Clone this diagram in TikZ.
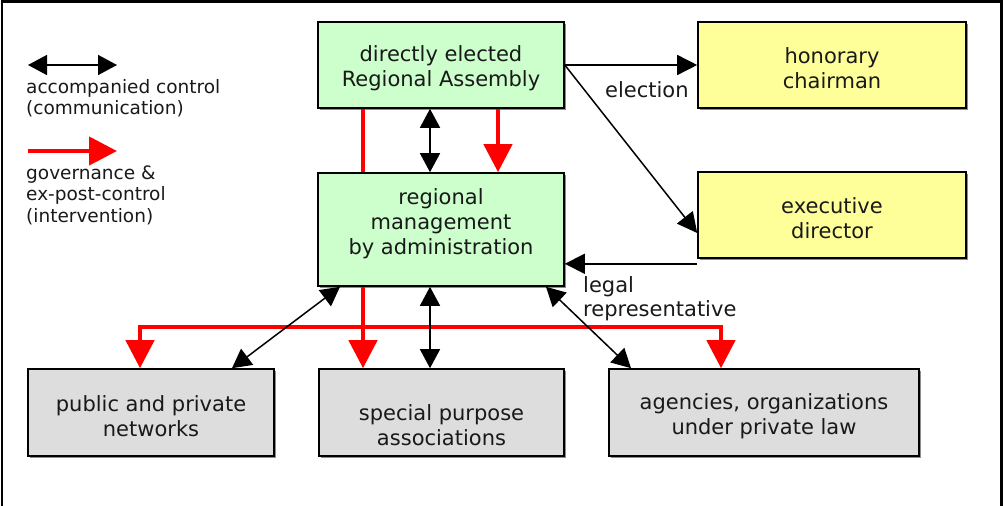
\documentclass[tikz,border=0pt]{standalone}
\usepackage{fontspec}
\setmainfont{DejaVu Sans}
\usetikzlibrary{arrows.meta,shadows}
\definecolor{boxgreen}{HTML}{CCFFCC}
\definecolor{boxyellow}{HTML}{FFFF99}
\definecolor{boxgray}{HTML}{DDDDDD}
\definecolor{myred}{HTML}{FF0000}
\begin{document}
\begin{tikzpicture}[x=1pt,y=-1pt,
  box/.style={draw=black, line width=1.6pt, minimum width=#1, inner sep=0pt,
    drop shadow={shadow xshift=1.5pt, shadow yshift=-1.5pt, fill=black!45, opacity=1}},
  boxtext/.style={font=\fontsize{21}{25}\selectfont, align=center, inner sep=0pt, text=black!90},
  legtext/.style={font=\fontsize{18.5}{21.5}\selectfont, align=left, inner sep=0pt, text=black!90, anchor=west},
  lbl/.style={font=\fontsize{21}{24}\selectfont, align=left, inner sep=0pt, text=black!90, anchor=west},
  blk/.style={draw=black, line width=1.5pt, -{Triangle[length=20pt,width=20pt]}},
  blkboth/.style={draw=black, line width=1.5pt, {Triangle[length=19pt,width=20pt]}-{Triangle[length=19pt,width=20pt]}},
  redarr/.style={draw=myred, line width=4.5pt, -{Triangle[length=28pt,width=28pt]}},
  redline/.style={draw=myred, line width=4.5pt}
]
\useasboundingbox (0,0) rectangle (1004,506);
% frame
\draw[line width=2.5pt] (2,506) -- (2,1.5) -- (1001.5,1.5) -- (1001.5,506);

% boxes
\node[box=246pt, minimum height=86pt, fill=boxgreen] (asm) at (441,65) {};
\node[box=246pt, minimum height=113pt, fill=boxgreen] (mgmt) at (441,229.5) {};
\node[box=268pt, minimum height=86pt, fill=boxyellow] (hon) at (832,65) {};
\node[box=268pt, minimum height=86pt, fill=boxyellow] (exe) at (832,215) {};
\node[box=246pt, minimum height=87pt, fill=boxgray] (pub) at (151,412.5) {};
\node[box=245pt, minimum height=87pt, fill=boxgray] (spa) at (441.5,412.5) {};
\node[box=310pt, minimum height=87pt, fill=boxgray] (agc) at (764,412.5) {};

% box texts
\node[boxtext] (asmT) at (441,68) {directly elected\\Regional Assembly};
\node[boxtext] (mgmtT) at (441,224) {regional\\management\\by administration};
\node[boxtext] (honT) at (832,68) {honorary\\chairman};
\node[boxtext] (exeT) at (832,218) {executive\\director};
\node[boxtext] (pubT) at (151,416) {public and private\\networks};
\node[boxtext] (spaT) at (441.5,425) {special purpose\\associations};
\node[boxtext] (agcT) at (764,416) {agencies, organizations\\under private law};

% legend
\coordinate (l1a) at (28,65);
\coordinate (l1b) at (117,65);
\draw[blkboth] (l1a) -- (l1b);
\node[legtext] (leg1) at (26,98) {accompanied control\\(communication)};
\coordinate (l2a) at (28,151);
\coordinate (l2b) at (117,151);
\draw[redarr] (l2a) -- (l2b);
\node[legtext] (leg2) at (26,195) {governance \&\\ex-post-control\\(intervention)};

% top connectors
\draw[blk] (asm.east) -- (hon.west);
\node[lbl] (elec) at (605,90) {election};
\draw[blk] (asm.east) -- ([yshift=-18pt]exe.west);
\coordinate (lr) at ([yshift=-5pt]exe.south west);
\draw[blk] (lr) -- (lr -| mgmt.east);
\node[lbl] (legal) at (583,299) {legal\\representative};

% assembly -> management
\draw[redline] (asm.south -| 363,0) -- (mgmt.north -| 363,0);
\draw[redarr] (asm.south -| 498,0) -- (mgmt.north -| 498,0);
\draw[blkboth] (asm.south -| 430,0) -- (mgmt.north -| 430,0);

% management -> bottom
\coordinate (busL) at (140,327);
\coordinate (busR) at (721,327);
\draw[redline] (busL) -- (busR);
\draw[redarr] ([yshift=2.25pt]busL) -- (busL |- pub.north);
\draw[redarr] ([yshift=2.25pt]busR) -- (busR |- agc.north);
\draw[redarr] (mgmt.south -| 363,0) -- (spa.north -| 363,0);
\draw[blkboth] (mgmt.south -| 430,0) -- (spa.north -| 430,0);
\draw[blkboth] (mgmt.south -| 340,0) -- (pub.north -| 232,0);
\draw[blkboth] (mgmt.south -| 546,0) -- (agc.north -| 631,0);
\end{tikzpicture}
\end{document}
